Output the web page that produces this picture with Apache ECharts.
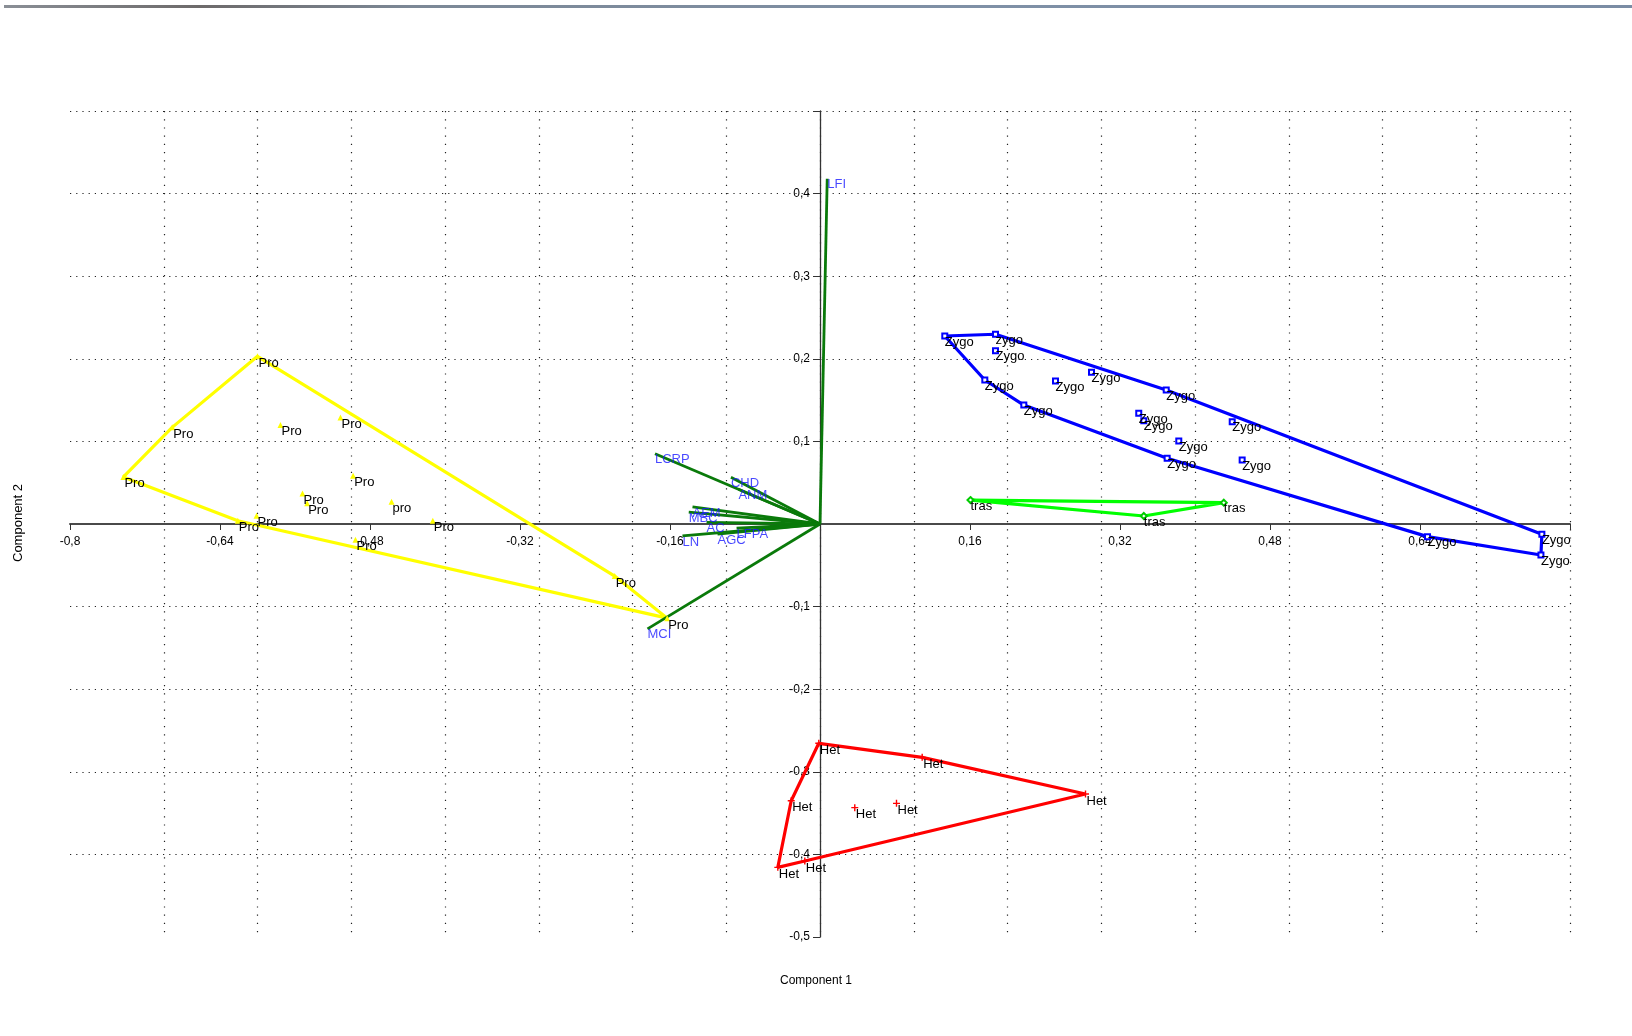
<!DOCTYPE html>
<html>
<head>
<meta charset="utf-8">
<script src="https://cdn.jsdelivr.net/npm/echarts@6/dist/echarts.min.js"></script>
<style>
html,body{margin:0;padding:0;background:#fff;}
#chart{width:1632px;height:1036px;}
</style>
</head>
<body>
<div id="chart"></div>
<script>
// ---- Data ----
const proNames = ["Pro","Pro","Pro","Pro","Pro","Pro","Pro","Pro","pro","Pro","Pro","Pro","Pro","Pro","Pro"];
const proX = [-0.600,-0.743,-0.691,-0.5755,-0.5115,-0.498,-0.552,-0.547,-0.457,-0.413,-0.601,-0.621,-0.4955,-0.219,-0.163];
const proY = [0.203,0.057,0.117,0.120,0.129,0.0585,0.037,0.025,0.027,0.004,0.010,0.004,-0.019,-0.063,-0.114];
const proHull = [0,13,14,11,1,2,0];

const zygoNames = ["Zygo","zygo","Zygo","Zygo","Zygo","Zygo","Zygo","Zygo","Zygo","Zygo","Zygo","Zygo","Zygo","Zygo","Zygo","Zygo","Zygo"];
const zygoX = [0.1331,0.1872,0.1872,0.1758,0.2512,0.2896,0.2174,0.3693,0.3400,0.3454,0.4397,0.3827,0.3703,0.4503,0.648,0.770,0.769];
const zygoY = [0.2276,0.2297,0.2098,0.1743,0.1731,0.1836,0.1440,0.1622,0.1340,0.1250,0.1239,0.1005,0.0795,0.0775,-0.0153,-0.0125,-0.0375];
const zygoHull = [0,1,7,15,16,14,12,6,3,0];

const trasNames = ["tras","tras","tras"];
const trasX = [0.1605,0.4307,0.3454];
const trasY = [0.029,0.0258,0.0097];
const trasHull = [0,1,2,0];

const hetNames = ["Het","Het","Het","Het","Het","Het","Het","Het"];
const hetX = [-0.0013,0.109,0.2832,-0.0307,0.0371,0.0816,-0.045,-0.0162];
const hetY = [-0.2655,-0.2825,-0.3269,-0.335,-0.3434,-0.3382,-0.4157,-0.408];
const hetHull = [0,1,2,7,6,3,0];

const loadNames = ["LCRP","CHD","ANM","AEM","MBC","AC","LFPA","AGC","LN","MCI","LFI"];
const loadX = [-0.176,-0.095,-0.087,-0.136,-0.140,-0.121,-0.089,-0.1093,-0.1467,-0.184,0.0077];
const loadY = [0.085,0.0565,0.042,0.0206,0.0145,0.002,-0.005,-0.0121,-0.0145,-0.127,0.418];

const xHiddenLabels = [0, 0.8];
const yHiddenLabels = [0, 0.5];
const xAxisTitle = "Component 1";
const yAxisTitle = "Component 2";

// ---- Chart ----
const FONT = "'Liberation Sans', Arial, sans-serif";
const W = 1632, H = 1036;
const GRID = {left:70, right:62, top:111, bottom:99};
const X_MIN = -0.8, X_MAX = 0.8, Y_MIN = -0.5, Y_MAX = 0.5;
const chart = echarts.init(document.getElementById('chart'), null, {renderer:'canvas'});
// move the axes onto the zero lines (axis line, ticks and labels together)
const gridHeight = H - GRID.top - GRID.bottom;
const gridWidth = W - GRID.left - GRID.right;
const xZeroOffset = -gridHeight * (0 - Y_MIN) / (Y_MAX - Y_MIN);
const yZeroOffset = -gridWidth * (0 - X_MIN) / (X_MAX - X_MIN);

function pts(xs, ys, names){ return xs.map((x,i)=>({name:names[i], value:[x, ys[i]]})); }
function hull(xs, ys, idx){ return idx.map(i=>[xs[i], ys[i]]); }
function fmt(hidden){
  return function(v){
    for (const h of hidden){ if (Math.abs(v-h) < 1e-9) return ''; }
    return String(+v.toFixed(2)).replace('.', ',');
  };
}
function hullSeries(data, color){
  return {type:'line', xAxisIndex:1, yAxisIndex:0, data:data, showSymbol:false, symbol:'none',
    lineStyle:{color:color, width:3.2}, z:3, silent:true};
}
function groupSeries(data, symbol, size, color){
  return {type:'scatter', xAxisIndex:1, yAxisIndex:0, data:data, symbol:symbol, symbolSize:size,
    itemStyle:{color:color, opacity:1}, z:5,
    label:{show:true, formatter:'{b}', position:[size/2+1, size/2+0.5], color:'#000',
      fontSize:13, fontFamily:FONT}};
}

const option = {
  animation:false,
  backgroundColor:'#ffffff',
  grid:GRID,
  xAxis:[
    {type:'value', min:X_MIN, max:X_MAX, interval:0.1, position:'top',
      axisLine:{show:false, onZero:false}, axisTick:{show:false}, axisLabel:{show:false},
      splitLine:{show:true, showMinLine:false, showMaxLine:true,
        lineStyle:{color:'#222', width:1.2, type:[1.2,7]}}},
    {type:'value', min:X_MIN, max:X_MAX, interval:0.16, position:'bottom', offset:xZeroOffset,
      axisLine:{show:true, onZero:false, lineStyle:{color:'#4a4a4a', width:2}},
      axisTick:{show:true, length:6, lineStyle:{color:'#333', width:1}},
      axisLabel:{show:true, margin:12, color:'#000', fontSize:12, fontFamily:FONT, formatter:fmt(xHiddenLabels)},
      splitLine:{show:false}}
  ],
  yAxis:[
    {type:'value', min:Y_MIN, max:Y_MAX, interval:0.1, position:'left', offset:yZeroOffset,
      axisLine:{show:true, onZero:false, lineStyle:{color:'#333', width:1.3}},
      axisTick:{show:true, length:7, lineStyle:{color:'#333', width:1}},
      axisLabel:{show:true, margin:10, color:'#000', fontSize:12, fontFamily:FONT, formatter:fmt(yHiddenLabels)},
      splitLine:{show:true, showMinLine:false, showMaxLine:true,
        lineStyle:{color:'#222', width:1.2, type:[1.2,5]}}}
  ],
  series:[
    {type:'lines', coordinateSystem:'cartesian2d', xAxisIndex:1, yAxisIndex:0,
      data: loadNames.map((n,i)=>({name:n, coords:[[0,0],[loadX[i], loadY[i]]]})),
      lineStyle:{color:'#0a7a0a', width:2.8, opacity:1}, z:4, silent:true},
    {type:'scatter', xAxisIndex:1, yAxisIndex:0, data: pts(loadX, loadY, loadNames),
      symbol:'circle', symbolSize:1, itemStyle:{color:'rgba(0,0,0,0)'}, z:6,
      label:{show:true, formatter:'{b}', position:[0.5,0], color:'#1a1aff', fontSize:13, fontFamily:FONT}},
    hullSeries(hull(proX, proY, proHull), '#ffff00'),
    hullSeries(hull(zygoX, zygoY, zygoHull), '#0000ff'),
    hullSeries(hull(trasX, trasY, trasHull), '#00ff00'),
    hullSeries(hull(hetX, hetY, hetHull), '#ff0000'),
    groupSeries(pts(proX, proY, proNames), 'triangle', 6, '#ffff00'),
    groupSeries(pts(zygoX, zygoY, zygoNames), 'emptyRect', 5, '#0000ff'),
    groupSeries(pts(trasX, trasY, trasNames), 'emptyDiamond', 6, '#00cc00'),
    groupSeries(pts(hetX, hetY, hetNames), 'path://M4,0H6V10H4ZM0,4H10V6H0Z', 7, '#ff0000')
  ],
  graphic:[
    {type:'rect', left:4, top:5, shape:{width:1628, height:3},
      style:{fill:new echarts.graphic.LinearGradient(0,0,1,0,[
        {offset:0, color:'#8a8f96'},{offset:0.12, color:'#6d6a6a'},{offset:0.25, color:'#7c8896'},
        {offset:0.6, color:'#7f90a6'},{offset:1, color:'#7a8ca4'}])}, silent:true},
    {type:'text', left:'center', top:975, style:{text:xAxisTitle, fill:'#000', font:'12px '+FONT}, silent:true},
    {type:'text', x:12, y:562, rotation:Math.PI/2, style:{text:yAxisTitle, fill:'#000', font:'13px '+FONT}, silent:true}
  ]
};
chart.setOption(option);
</script>
</body>
</html>
